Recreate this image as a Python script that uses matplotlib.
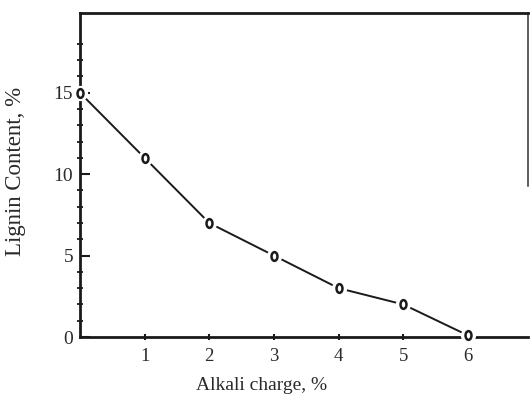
import matplotlib
matplotlib.use("Agg")
import matplotlib.pyplot as plt
import matplotlib.path as mpath
import matplotlib.transforms as mtrans

alkali_charge = [0, 1, 2, 3, 4, 5, 6]
lignin_content = [15.0, 11.0, 7.0, 5.0, 3.0, 2.0, 0.1]
x_ticks = [1, 2, 3, 4, 5, 6]
y_ticks = [0, 5, 10, 15]
y_minor = [v for v in range(1, 19) if v % 5 != 0]

ink = "#1a1a1a"
plt.rcParams['font.family'] = ['Liberation Serif', 'DejaVu Serif']

fig = plt.figure(figsize=(5.31, 4.0), dpi=100)
ax = fig.add_axes([80 / 531, 1 - 337 / 400, (528 - 80) / 531, (337 - 13) / 400])
ax.set_xlim(0, 6.93)
ax.set_ylim(0, 19.9)

circ = mpath.Path.unit_circle()
oval = mtrans.Affine2D().scale(0.68, 1.0).transform_path(circ)

ax.plot(alkali_charge, lignin_content, color=ink, lw=1.4, zorder=2)
ax.plot(alkali_charge, lignin_content, ls='none', marker='o', ms=10,
        mfc='white', mec='white', zorder=4, clip_on=False)
ax.plot(alkali_charge, lignin_content, ls='none', marker=oval, ms=6.3,
        mfc='white', mec=ink, mew=1.8, zorder=5, clip_on=False)

for s in ['left', 'bottom', 'top']:
    ax.spines[s].set_linewidth(2.0)
    ax.spines[s].set_color(ink)
ax.spines['right'].set_linewidth(1.1)
ax.spines['right'].set_color('#333333')
ax.spines['right'].set_bounds(9.3, 19.9)

ax.set_xticks(x_ticks)
ax.set_xticklabels([str(v) for v in x_ticks])
ax.set_yticks(y_ticks)
ax.set_yticklabels([str(v) for v in y_ticks])
ax.set_yticks(y_minor, minor=True)

ax.tick_params(axis='x', direction='inout', length=4, width=1.5, color=ink,
               labelsize=13.5, labelcolor='#2a2a2a', pad=6, top=False)
ax.tick_params(axis='y', which='major', direction='in', length=7, width=1.5,
               color=ink, labelsize=14, labelcolor='#2a2a2a', pad=5, right=False)
ax.tick_params(axis='y', which='minor', direction='inout', length=5, width=1.3,
               color=ink, right=False)

fig.text(262 / 531, 1 - 385 / 400, 'Alkali charge, %', ha='center', va='center',
         fontsize=14, color='#2a2a2a')
fig.text(16 / 531, 1 - 171 / 400, 'Lignin Content, %', ha='center', va='center',
         rotation=90, fontsize=16.5, color='#2a2a2a')

fig.savefig('out.png', dpi=100)
